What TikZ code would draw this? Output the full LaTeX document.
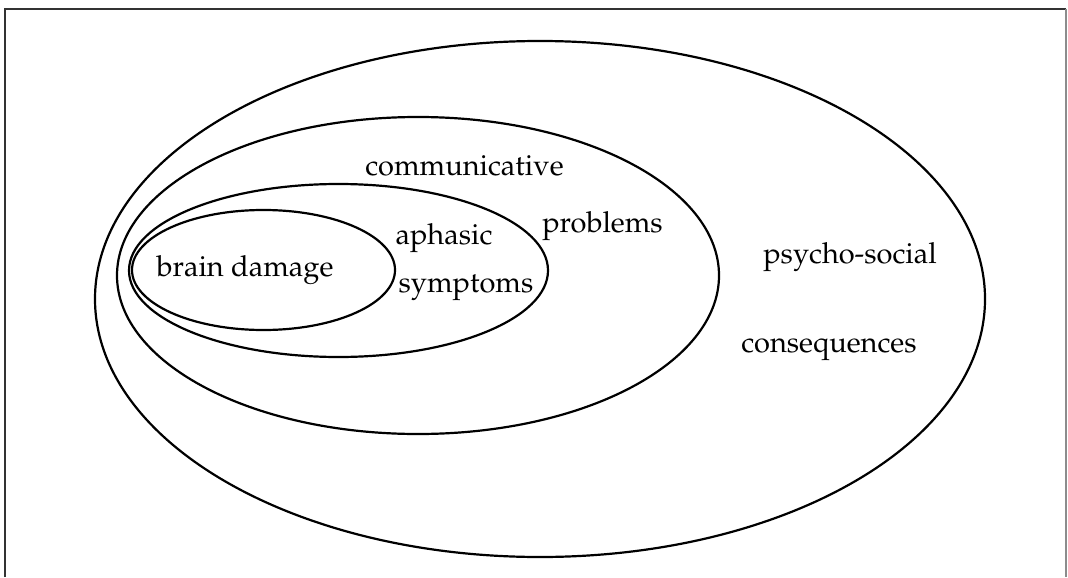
\documentclass[tikz,border=0pt]{standalone}
\usepackage[T1]{fontenc}
\usepackage{mathpazo}
\usepackage{tikz}
\usetikzlibrary{shapes}
\usetikzlibrary{positioning}
\usetikzlibrary{shapes.geometric}
\tikzset{
    ring/.style = {ellipse, draw=black, line width=1.1pt, inner sep=0pt, outer sep=0pt},
    word/.style = {anchor=base, inner sep=0pt, font=\fontsize{14.5}{17}\selectfont},
    framel/.style = {line width=1.3pt, black!80},
    framer/.style = {line width=1pt, black!45},
}
\begin{document}
\begin{tikzpicture}[x=0.5pt, y=-0.5pt]
\useasboundingbox (0,0) rectangle (1068,577);
\coordinate (bl) at (5,577);
\coordinate (tl) at (5,9);
\coordinate (tr) at (1066,9);
\coordinate (br) at (1066,577);
\draw[framel] (bl) -- (tl) -- (tr);
\draw[framer] (tr) -- (br);
%
\node[ring, minimum width=445pt, minimum height=258pt] at (540,299) (psy) {};
\node[ring, minimum width=301pt, minimum height=158.5pt] at (418,275.5) (com) {};
\node[ring, minimum width=209.5pt, minimum height=86.5pt] at (338.5,270.5) (aph) {};
\node[ring, minimum width=131.5pt, minimum height=60pt] at (263.5,270) (brain) {};
%
\node[word] at (245,276) (bd) {brain damage};
\node[word] at (444,244) (ap) {aphasic};
\node[word] at (466,292) (sy) {symptoms};
\node[word] at (464.5,176) (cm) {communicative};
\node[word] at (602.5,232) (pr) {problems};
\node[word] at (850,263) (ps) {psycho-social};
\node[word] at (829,352) (cs) {consequences};
\end{tikzpicture}
\end{document}
